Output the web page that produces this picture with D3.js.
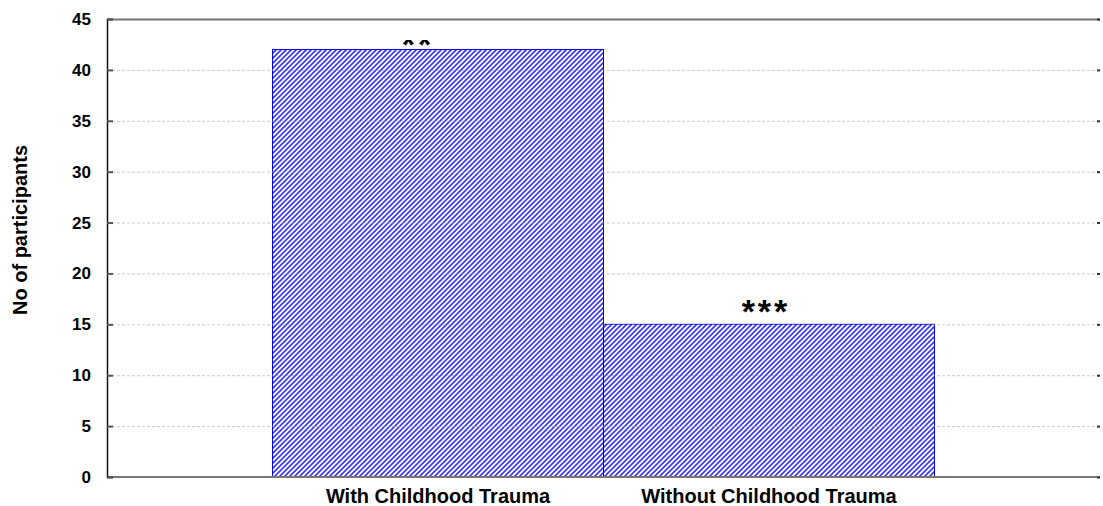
<!DOCTYPE html>
<html>
<head>
<meta charset="utf-8" />
<title>No of participants</title>
<style>
html, body { margin: 0; padding: 0; background: #fff; }
#chart { width: 1103px; height: 506px; }
</style>
</head>
<body>
<div id="chart"></div>
<script src="https://d3js.org/d3.v7.min.js"></script>
<script>
var categories = ["With Childhood Trauma", "Without Childhood Trauma"];
var participants = [42, 15];
var marks = ["**", "***"];
var yTicks = [0, 5, 10, 15, 20, 25, 30, 35, 40, 45];

!(function(){
    "use strict"

    var width = 1103, height = 506
    var margin = {top: 19, left: 107, right: 3, bottom: 29}
    var chartWidth = width - margin.left - margin.right
    var chartHeight = height - margin.top - margin.bottom

    var svg = d3.select("#chart").append("svg")
        .attr("width", width).attr("height", height)
        .style("font-family", "Arial, 'Liberation Sans', sans-serif")

    var defs = svg.append("defs")
    var pat = defs.append("pattern")
        .attr("id", "hatch")
        .attr("patternUnits", "userSpaceOnUse")
        .attr("width", 5).attr("height", 5)
    pat.append("rect").attr("width", 5).attr("height", 5).attr("fill", "#fff")
    pat.append("path")
        .attr("d", "M-1,1 l2,-2 M0,5 l5,-5 M4,6 l2,-2")
        .attr("stroke", "#3a3aff").attr("stroke-width", 1.7)

    // the "**" over the tall bar is cut off at the top in the original
    defs.append("clipPath").attr("id", "starclip")
        .append("rect").attr("x", 0).attr("y", 40).attr("width", width).attr("height", height)

    var g = svg.append("g").attr("transform", "translate(" + [margin.left, margin.top] + ")")

    var x = d3.scaleBand().domain(categories).range([0, chartWidth])
        .paddingInner(0).paddingOuter(0.5)
    var y = d3.scaleLinear().domain([0, 45]).range([chartHeight, 0])

    // bars
    g.selectAll("rect.bar").data(participants).enter().append("rect")
        .attr("class", "bar")
        .attr("x", function(d, i){ return x(categories[i]) })
        .attr("y", function(d){ return y(d) })
        .attr("width", x.bandwidth())
        .attr("height", function(d){ return chartHeight - y(d) })
        .attr("fill", "url(#hatch)")
        .attr("stroke", "#0000ff").attr("stroke-width", 1)

    // grid lines (drawn faintly above the bars)
    g.append("g").selectAll("line").data(yTicks.filter(function(d){ return d > 0 && d < 45 })).enter()
        .append("line")
        .attr("x1", 0).attr("x2", chartWidth)
        .attr("y1", function(d){ return y(d) + 0.5 }).attr("y2", function(d){ return y(d) + 0.5 })
        .attr("stroke", "#aaa").attr("stroke-width", 1)
        .attr("stroke-dasharray", "3,2").attr("opacity", 0.6)

    // frame: top and bottom in grey, left axis dark
    g.append("line").attr("x1", 0).attr("x2", chartWidth).attr("y1", 0.5).attr("y2", 0.5)
        .attr("stroke", "#777").attr("stroke-width", 2)
    g.append("line").attr("x1", 0).attr("x2", chartWidth).attr("y1", chartHeight).attr("y2", chartHeight)
        .attr("stroke", "#777").attr("stroke-width", 2)

    var yAxis = d3.axisLeft(y).tickValues(yTicks).tickSize(-6).tickPadding(16)
    var ya = g.append("g").call(yAxis)
    ya.select(".domain").attr("stroke", "#111").attr("stroke-width", 1.5)
    ya.selectAll(".tick line").attr("stroke", "#555").attr("stroke-width", 2)
    ya.selectAll(".tick text")
        .attr("font-size", "17px").attr("font-weight", "bold").attr("fill", "#000")
        .attr("font-family", "Arial, 'Liberation Sans', sans-serif")

    // right side ticks
    g.append("g").selectAll("line").data(yTicks).enter().append("line")
        .attr("x1", chartWidth - 3).attr("x2", chartWidth)
        .attr("y1", function(d){ return y(d) + 0.5 }).attr("y2", function(d){ return y(d) + 0.5 })
        .attr("stroke", "#333").attr("stroke-width", 2)

    // category labels
    g.selectAll("text.cat").data(categories).enter().append("text")
        .attr("class", "cat")
        .attr("x", function(d){ return x(d) + x.bandwidth() / 2 })
        .attr("y", chartHeight + 26)
        .attr("text-anchor", "middle")
        .attr("font-size", "20px").attr("font-weight", "bold")
        .text(function(d){ return d })

    // significance marks (the first one sits lower, half hidden)
    var markShift = [6, -1]
    var starLayer = svg.append("g").attr("clip-path", "url(#starclip)")
    starLayer.selectAll("text").data(participants).enter().append("text")
        .attr("x", function(d, i){ return margin.left + x(categories[i]) + x.bandwidth() / 2 - (i === 0 ? 20 : 3) })
        .attr("y", function(d, i){ return margin.top + y(d) + markShift[i] })
        .attr("text-anchor", "middle")
        .attr("font-size", "34px").attr("font-weight", "bold")
        .attr("letter-spacing", "3px")
        .text(function(d, i){ return marks[i] })

    // y title
    svg.append("text")
        .attr("transform", "translate(27," + (margin.top + chartHeight / 2 - 18) + ") rotate(-90)")
        .attr("text-anchor", "middle")
        .attr("font-size", "20px").attr("font-weight", "bold")
        .text("No of participants")
}());
</script>
</body>
</html>
